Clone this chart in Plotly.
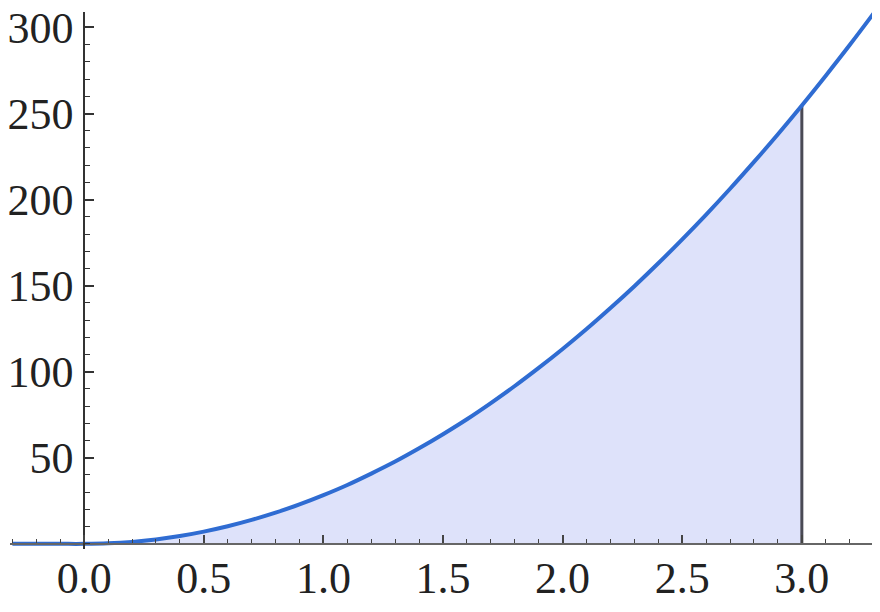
import plotly.graph_objects as go

# Sample positions along x and curve values
x_vals = [-0.3, -0.2, -0.1, 0.0, 0.1, 0.2, 0.3, 0.4, 0.5, 0.6, 0.7, 0.8, 0.9,
          1.0, 1.1, 1.2, 1.3, 1.4, 1.5, 1.6, 1.7, 1.8, 1.9, 2.0, 2.1, 2.2,
          2.3, 2.4, 2.5, 2.6, 2.7, 2.8, 2.9, 3.0, 3.1, 3.2, 3.3]
y_vals = [0.0, 0.0, 0.0, 0.0, 0.3, 1.1, 2.5, 4.5, 7.1, 10.2, 13.9, 18.1, 22.9,
          28.3, 34.2, 40.8, 47.8, 55.5, 63.7, 72.4, 81.8, 91.7, 102.2, 113.2,
          124.8, 137.0, 149.7, 163.0, 176.9, 191.3, 206.3, 221.9, 238.0, 254.7,
          272.0, 289.8, 308.2]
fill_start = 0.0
fill_end = 3.0
x_tick_vals = [0.0, 0.5, 1.0, 1.5, 2.0, 2.5, 3.0]
x_tick_text = ["0.0", "0.5", "1.0", "1.5", "2.0", "2.5", "3.0"]
y_tick_vals = [50, 100, 150, 200, 250, 300]
y_tick_text = ["50", "100", "150", "200", "250", "300"]

fx = [x for x in x_vals if fill_start <= x <= fill_end]
fy = [y for x, y in zip(x_vals, y_vals) if fill_start <= x <= fill_end]
y_at_end = fy[-1]

fig = go.Figure()
fig.add_trace(go.Scatter(x=fx, y=fy, mode="lines", line=dict(width=0, shape="spline"),
                         fill="tozeroy", fillcolor="rgba(222,226,250,1)", hoverinfo="skip"))
fig.add_trace(go.Scatter(x=[fill_end, fill_end], y=[0, y_at_end], mode="lines",
                         line=dict(color="#4a4a55", width=3)))
fig.add_trace(go.Scatter(x=x_vals, y=y_vals, mode="lines",
                         line=dict(color="#2f6cd2", width=4, shape="spline")))

font = dict(family="Liberation Serif", size=44, color="#222222")
x_range = [-0.31, 3.31]
y_range = [-3, 309]

fig.update_layout(
    width=880, height=612,
    margin=dict(l=2, r=12, t=4, b=71, autoexpand=False),
    paper_bgcolor="white", plot_bgcolor="white",
    showlegend=False,
    xaxis=dict(range=x_range, anchor="free", automargin=False,
               position=(0 - y_range[0]) / (y_range[1] - y_range[0]),
               showgrid=False, zeroline=False, showline=True, linecolor="#666666", linewidth=1.5,
               tickmode="array", tickvals=x_tick_vals, ticktext=x_tick_text,
               ticks="inside", ticklen=8, tickwidth=1.5, tickcolor="#444444",
               ticklabelstandoff=-4, tickfont=font, ticklabeloverflow="allow",
               minor=dict(tickmode="linear", tick0=0, dtick=0.1, ticks="inside",
                          ticklen=4, tickwidth=1.2, tickcolor="#444444")),
    yaxis=dict(range=y_range, anchor="free", automargin=False,
               position=(0 - x_range[0]) / (x_range[1] - x_range[0]),
               showgrid=False, zeroline=False, showline=True, linecolor="#333333", linewidth=1.5,
               tickmode="array", tickvals=y_tick_vals, ticktext=y_tick_text,
               ticks="inside", ticklen=9, tickwidth=1.5, tickcolor="#333333",
               ticklabelstandoff=1, tickfont=font, ticklabeloverflow="allow",
               minor=dict(tickmode="linear", tick0=0, dtick=10, ticks="inside",
                          ticklen=5, tickwidth=1.2, tickcolor="#333333")),
)

fig.write_html("out.html")
